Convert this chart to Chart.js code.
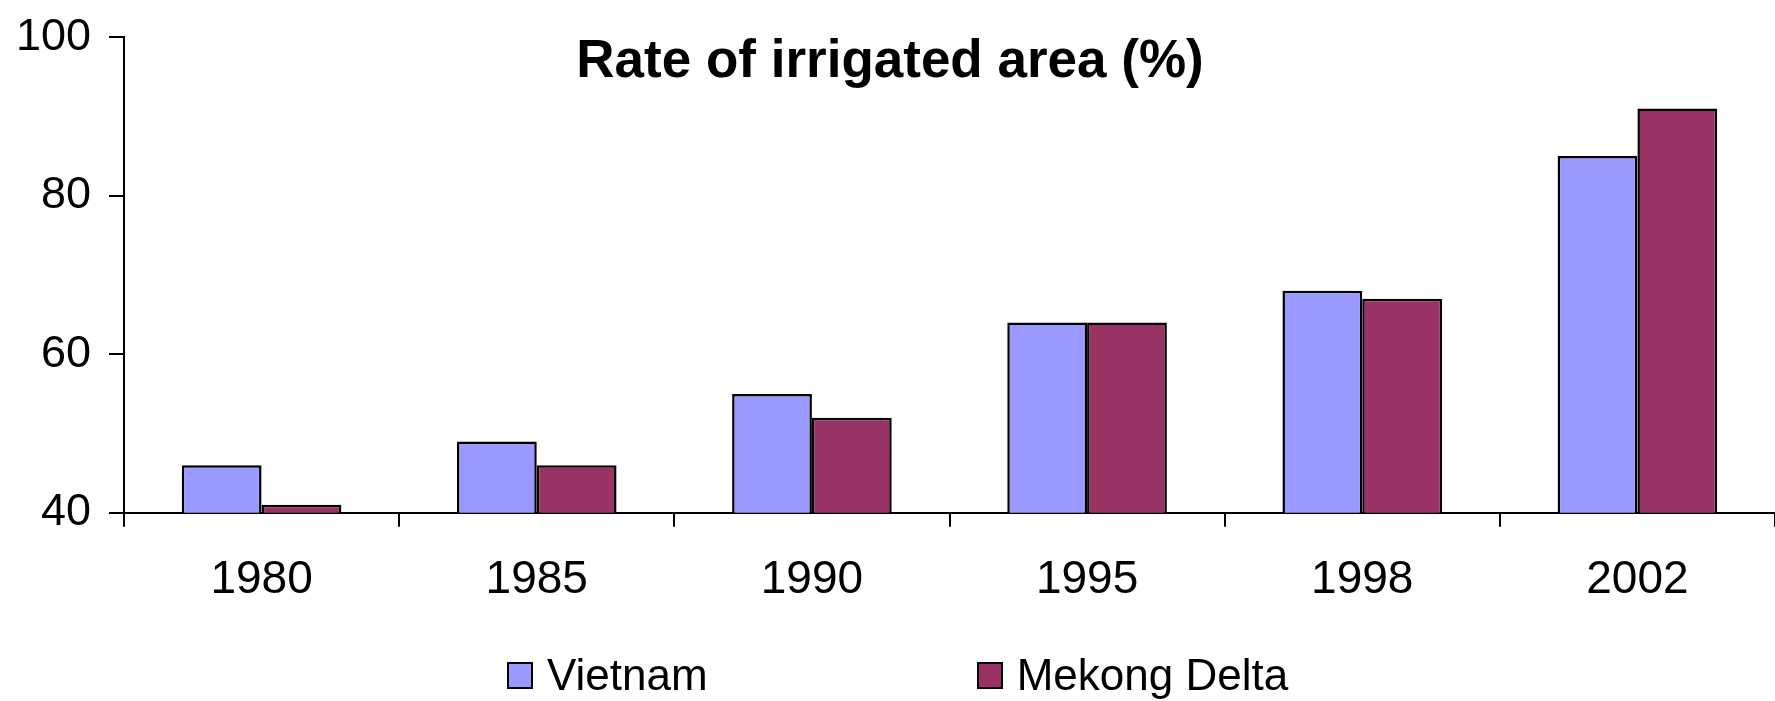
<!DOCTYPE html>
<html>
<head>
<meta charset="utf-8">
<title>Rate of irrigated area</title>
<script src="https://cdn.jsdelivr.net/npm/chart.js@4.4.0/dist/chart.umd.min.js"></script>
<style>
  body { margin: 0; background: #fff; }
  .wrap { position: relative; width: 1775px; height: 701px; }
  #irrigChart { position: absolute; left: 0; top: 0; }
  .legend {
    position: absolute; left: 507px; top: 650px;
    display: flex; gap: 269px; align-items: center;
    font-family: "Liberation Sans", Arial, sans-serif; font-size: 44px; color: #000;
  }
  .legend-item { display: flex; align-items: center; }
  .legend-box {
    width: 22px; height: 23px; border: 2px solid #000; margin-right: 14px;
  }
</style>
</head>
<body>
<div class="wrap">
  <canvas id="irrigChart" width="1775" height="701"></canvas>
  <div class="legend" id="legend"></div>
</div>
<script>
// ===== DATI =====
const anni = ["1980", "1985", "1990", "1995", "1998", "2002"];
const vietnam = [46, 49, 55, 64, 68, 85];
const mekongDelta = [41, 46, 52, 64, 67, 91];
const yTicks = [40, 60, 80, 100];

const FONT = '"Liberation Sans", Arial, sans-serif';

// titolo disegnato sopra l'area del grafico
const titlePlugin = {
  id: "overlayTitle",
  afterDraw(chart) {
    const ctx = chart.ctx;
    ctx.save();
    ctx.font = "bold 53px " + FONT;
    ctx.fillStyle = "#000";
    ctx.textAlign = "center";
    ctx.textBaseline = "alphabetic";
    ctx.fillText("Rate of irrigated area (%)", 890, 77);
    ctx.restore();
  },
};

const ctx = document.getElementById("irrigChart").getContext("2d");
const chart = new Chart(ctx, {
  type: "bar",
  data: {
    labels: anni,
    datasets: [
      {
        label: "Vietnam",
        data: vietnam,
        backgroundColor: "#9999ff",
        borderColor: "#000",
        borderWidth: 2.5,
        borderSkipped: false,
      },
      {
        label: "Mekong Delta",
        data: mekongDelta,
        backgroundColor: "#993366",
        borderColor: "#000",
        borderWidth: 2.5,
        borderSkipped: false,
      },
    ],
  },
  options: {
    responsive: false,
    animation: false,
    layout: { padding: { top: 35, right: 0, left: 0, bottom: 67 } },
    datasets: {
      bar: { categoryPercentage: 0.58, barPercentage: 1.0 },
    },
    plugins: {
      legend: { display: false },
      tooltip: { enabled: false },
    },
    scales: {
      x: {
        grid: {
          offset: true,
          drawOnChartArea: false,
          tickLength: 14,
          color: "#000",
          lineWidth: 2,
        },
        border: { color: "#000", width: 2 },
        ticks: {
          color: "#000",
          padding: 26,
          font: { family: FONT, size: 46 },
          maxRotation: 0,
        },
      },
      y: {
        min: 40,
        max: 100,
        afterFit(scale) {
          scale.width = 124;
        },
        afterBuildTicks(scale) {
          scale.ticks = yTicks.map((v) => ({ value: v }));
        },
        grid: {
          drawOnChartArea: false,
          tickLength: 15,
          color: "#000",
          lineWidth: 2,
        },
        border: { color: "#000", width: 2 },
        ticks: {
          color: "#000",
          padding: 18,
          font: { family: FONT, size: 45, lineHeight: 0.85 },
        },
      },
    },
  },
  plugins: [titlePlugin],
});

// ===== LEGENDA HTML =====
document.getElementById("legend").innerHTML = chart.data.datasets
  .map(
    (ds) => `
    <div class="legend-item">
      <span class="legend-box" style="background:${ds.backgroundColor}"></span>
      <span>${ds.label}</span>
    </div>`
  )
  .join("");
</script>
</body>
</html>
